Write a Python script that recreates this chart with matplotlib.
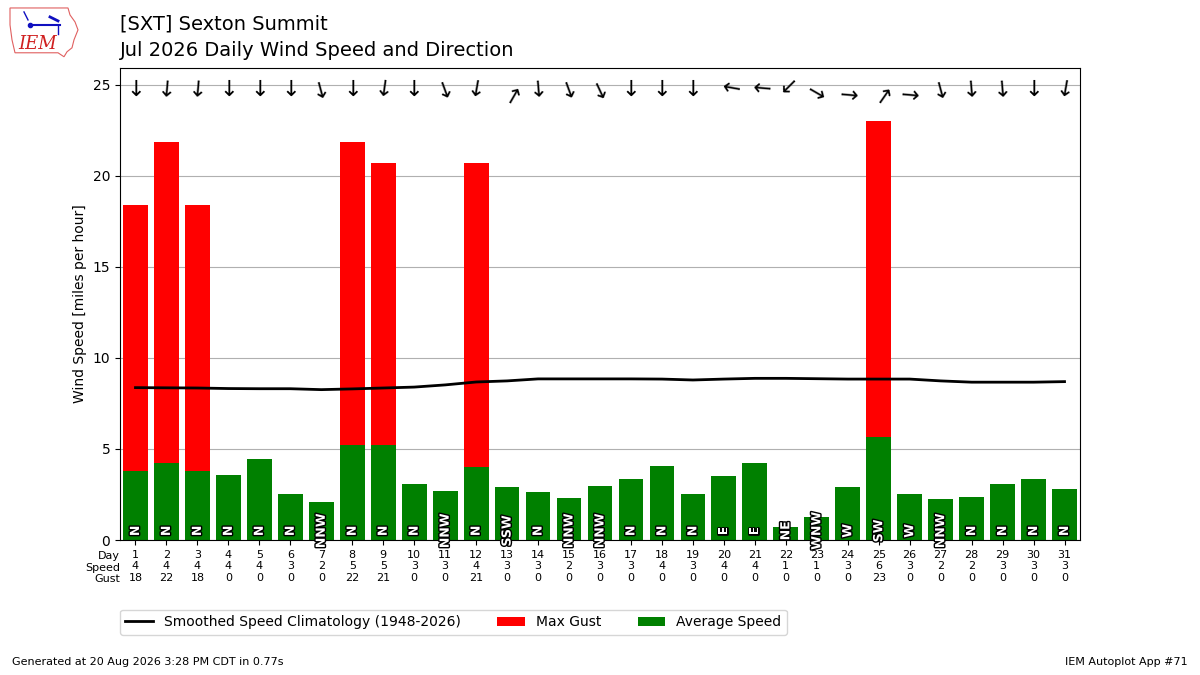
import matplotlib
matplotlib.use("Agg")
import matplotlib.pyplot as plt
import matplotlib.patheffects as PathEffects
from matplotlib.patches import Polygon

# daily values for July 2026, Sexton Summit
days = list(range(1, 32))
avg_speed = [3.79, 4.23, 3.79, 3.57, 4.45, 2.53, 2.09, 5.22, 5.22, 3.08,
             2.69, 4.01, 2.91, 2.64, 2.31, 2.97, 3.35, 4.07, 2.53, 3.52,
             4.23, 0.71, 1.28, 2.91, 5.66, 2.50, 2.25, 2.36, 3.08, 3.35, 2.80]
max_gust = [18.4, 21.87, 18.4, 0, 0, 0, 0, 21.87, 20.71, 0,
            0, 20.71, 0, 0, 0, 0, 0, 0, 0, 0,
            0, 0, 0, 0, 23.02, 0, 0, 0, 0, 0, 0]
speed_labels = [4, 4, 4, 4, 4, 3, 2, 5, 5, 3, 3, 4, 3, 3, 2, 3, 3, 4, 3, 4,
                4, 1, 1, 3, 6, 3, 2, 2, 3, 3, 3]
gust_labels = [18, 22, 18, 0, 0, 0, 0, 22, 21, 0, 0, 21, 0, 0, 0, 0, 0, 0, 0, 0,
               0, 0, 0, 0, 23, 0, 0, 0, 0, 0, 0]
drct_text = ["N", "N", "N", "N", "N", "N", "NNW", "N", "N", "N",
             "NNW", "N", "SSW", "N", "NNW", "NNW", "N", "N", "N", "E",
             "E", "NE", "WNW", "W", "SW", "W", "NNW", "N", "N", "N", "N"]
drct_deg = [0, 5, 5, 0, 0, 0, 345, 0, 8, 0,
            340, 10, 210, 355, 340, 335, 0, 0, 0, 100,
            95, 45, 300, 275, 215, 275, 345, 355, 355, 0, 10]
climo = [8.37, 8.36, 8.35, 8.32, 8.31, 8.31, 8.26, 8.30, 8.35, 8.40,
         8.52, 8.68, 8.74, 8.85, 8.85, 8.85, 8.85, 8.84, 8.79, 8.84,
         8.88, 8.88, 8.86, 8.84, 8.84, 8.84, 8.74, 8.67, 8.67, 8.67, 8.70]

fig = plt.figure(figsize=(12, 6.75), dpi=100)
ax = fig.add_axes([0.1, 0.2, 0.8, 0.6993])

ax.plot(days, climo, color="k", lw=2, zorder=3,
        label="Smoothed Speed Climatology (1948-2026)")
ax.bar(days, max_gust, width=0.8, color="red", label="Max Gust", zorder=2)
ax.bar(days, avg_speed, width=0.8, color="green", label="Average Speed", zorder=2)

for d, txt, deg in zip(days, drct_text, drct_deg):
    ax.text(d, 0.5, txt, rotation=90, ha="center", va="center", color="white",
            fontsize=9, fontweight="bold", zorder=5,
            path_effects=[PathEffects.withStroke(linewidth=2, foreground="k")])
    ax.text(d, 24.7, "\u2193", rotation=-deg, ha="center", va="center",
            fontsize=16, zorder=5)

ax.set_xlim(0.5, 31.5)
ax.set_ylim(0, 25.93)
ax.set_yticks([0, 5, 10, 15, 20, 25])
ax.set_xticks(days)
ax.set_xticklabels([f"{d}\n{s}\n{g}" for d, s, g in zip(days, speed_labels, gust_labels)],
                   fontsize=8)
ax.tick_params(axis="y", labelsize=10)
ax.grid(axis="y", color="#b0b0b0")
ax.set_axisbelow(True)
ax.set_ylabel("Wind Speed [miles per hour]", fontsize=10)
fig.text(0.1, 0.1835, "Day\nSpeed\nGust", ha="right", va="top", fontsize=8)

fig.legend(loc="upper left", bbox_to_anchor=(0.094, 0.107), ncol=3, fontsize=10,
           columnspacing=2.6)

fig.text(0.1, 0.978, "[SXT] Sexton Summit\nJul 2026 Daily Wind Speed and Direction",
         ha="left", va="top", fontsize=14, linespacing=1.5)
fig.text(0.01, 0.015, "Generated at 20 Aug 2026 3:28 PM CDT in 0.77s", fontsize=8)
fig.text(0.99, 0.015, "IEM Autoplot App #71", ha="right", fontsize=8)

# rough IEM logo
logo = fig.add_axes([0.0, 0.91, 0.07, 0.09])
logo.set_xlim(0, 84)
logo.set_ylim(61, 0)
logo.axis("off")
outline = [(10, 8), (68, 8), (70, 15), (75, 22), (78, 30), (74, 40), (72, 48),
           (67, 52), (64, 57), (58, 53), (15, 53), (12, 40), (10, 25)]
logo.add_patch(Polygon(outline, closed=True, fill=False, ec="#e06060", lw=0.8))
logo.plot([30, 60], [25, 25], color="#1010c0", lw=1.5)
logo.plot([30], [25], "o", color="#1010c0", ms=3)
logo.plot([50, 58], [17, 21], color="#1010c0", lw=2)
logo.plot([58, 58], [25, 34], color="#1010c0", lw=1)
logo.plot([24, 28], [12, 20], color="#1010c0", lw=1)
logo.text(38, 44, "IEM", color="#d02020", fontsize=13, style="italic",
          family="DejaVu Serif", ha="center", va="center")

fig.savefig("out.png", dpi=100)
